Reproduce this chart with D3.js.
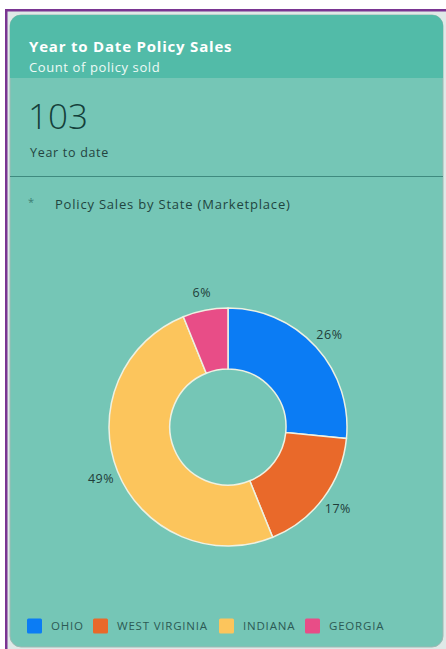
<!DOCTYPE html>
<html>
<head>
<meta charset="utf-8">
<script src="https://cdn.jsdelivr.net/npm/d3@7"></script>
<style>
  html, body { margin: 0; padding: 0; background: #ffffff; }
  svg { display: block; font-family: "Open Sans", "Noto Sans", sans-serif; }
</style>
</head>
<body>
<svg id="chart" width="446" height="649"></svg>
<script>
// Policy sales by state, year to date
const states = ["OHIO", "WEST VIRGINIA", "INDIANA", "GEORGIA"];
const shares = [26, 17, 49, 6];           // percent of policies sold
const stateColors = ["#0b7cf4", "#e9692a", "#fcc55c", "#e84d87"];
const totalSold = 103;

const W = 446, H = 649;
const svg = d3.select("#chart");

// page frame
svg.append("rect").attr("width", W).attr("height", H).attr("fill", "#ffffff");
svg.append("rect").attr("x", 5).attr("y", 9).attr("width", W - 5).attr("height", H - 9).attr("fill", "#dfe9e7");
svg.append("rect").attr("x", 5).attr("y", 9).attr("width", W - 5).attr("height", 2.5).attr("fill", "#7a3592");
svg.append("rect").attr("x", 5).attr("y", 9).attr("width", 2.5).attr("height", H - 9).attr("fill", "#7a3592");

// card
const card = { x: 10, y: 15, w: 433, h: 632, r: 11 };
svg.append("rect")
  .attr("x", card.x).attr("y", card.y).attr("width", card.w).attr("height", card.h)
  .attr("rx", card.r).attr("fill", "#75c6b6").attr("stroke", "#9fb9b4").attr("stroke-width", 1);

// header band
const clip = svg.append("defs").append("clipPath").attr("id", "cardClip");
clip.append("rect").attr("x", card.x).attr("y", card.y).attr("width", card.w).attr("height", card.h).attr("rx", card.r);
svg.append("rect")
  .attr("clip-path", "url(#cardClip)")
  .attr("x", card.x).attr("y", card.y).attr("width", card.w).attr("height", 63)
  .attr("fill", "#52bba8");

svg.append("text").attr("x", 29).attr("y", 52)
  .attr("fill", "#ffffff").attr("font-size", 15).attr("font-weight", 700)
  .attr("letter-spacing", 0.8)
  .text("Year to Date Policy Sales");
svg.append("text").attr("x", 29).attr("y", 72)
  .attr("fill", "#eefaf6").attr("font-size", 13).attr("letter-spacing", 0.6)
  .text("Count of policy sold");

// headline metric
svg.append("text").attr("x", 28).attr("y", 129)
  .attr("fill", "#14403a").attr("font-size", 35).attr("font-weight", 300)
  .text(totalSold);
svg.append("text").attr("x", 30).attr("y", 157)
  .attr("fill", "#24443f").attr("font-size", 12.5).attr("letter-spacing", 0.7)
  .text("Year to date");

// divider
svg.append("line").attr("x1", card.x).attr("x2", card.x + card.w)
  .attr("y1", 176.5).attr("y2", 176.5)
  .attr("stroke", "#3f8a7f").attr("stroke-width", 1.2);

// chart title
svg.append("text").attr("x", 28).attr("y", 206)
  .attr("fill", "#3d7d73").attr("font-size", 11).text("*");
svg.append("text").attr("x", 55).attr("y", 209)
  .attr("fill", "#1f4540").attr("font-size", 13).attr("letter-spacing", 0.8)
  .text("Policy Sales by State (Marketplace)");

// donut
const cx = 228, cy = 427, outerR = 119, innerR = 58, labelR = 137;
const pie = d3.pie().sort(null).value(d => d.value);
const slices = pie(states.map((s, i) => ({ state: s, value: shares[i], color: stateColors[i] })));
const arc = d3.arc().innerRadius(innerR).outerRadius(outerR);
const labelArc = d3.arc().innerRadius(labelR).outerRadius(labelR);

const g = svg.append("g").attr("transform", `translate(${cx},${cy})`);
g.selectAll("path.slice")
  .data(slices)
  .join("path")
  .attr("class", "slice")
  .attr("d", arc)
  .attr("fill", d => d.data.color)
  .attr("stroke", "#eef1e2")
  .attr("stroke-width", 1.5);

// percentage labels around the ring
g.selectAll("text.pct")
  .data(slices)
  .join("text")
  .attr("class", "pct")
  .attr("transform", d => `translate(${labelArc.centroid(d)})`)
  .attr("dy", "0.35em")
  .attr("text-anchor", "middle")
  .attr("fill", "#1f3d39")
  .attr("font-size", 12.5).attr("letter-spacing", 0.5)
  .text(d => d.data.value + "%");

// legend
const legendX = [27, 93, 219, 305];
const legend = svg.append("g").attr("transform", "translate(0,626)");
const items = legend.selectAll("g.item")
  .data(states)
  .join("g")
  .attr("class", "item")
  .attr("transform", (d, i) => `translate(${legendX[i]},0)`);
items.append("rect")
  .attr("x", 0).attr("y", -7.5).attr("width", 15).attr("height", 15).attr("rx", 1.5)
  .attr("fill", (d, i) => stateColors[i]);
items.append("text")
  .attr("x", 24).attr("dy", "0.35em")
  .attr("fill", "#2c5a54").attr("font-size", 11.5).attr("letter-spacing", 0.8)
  .text(d => d);
</script>
</body>
</html>
